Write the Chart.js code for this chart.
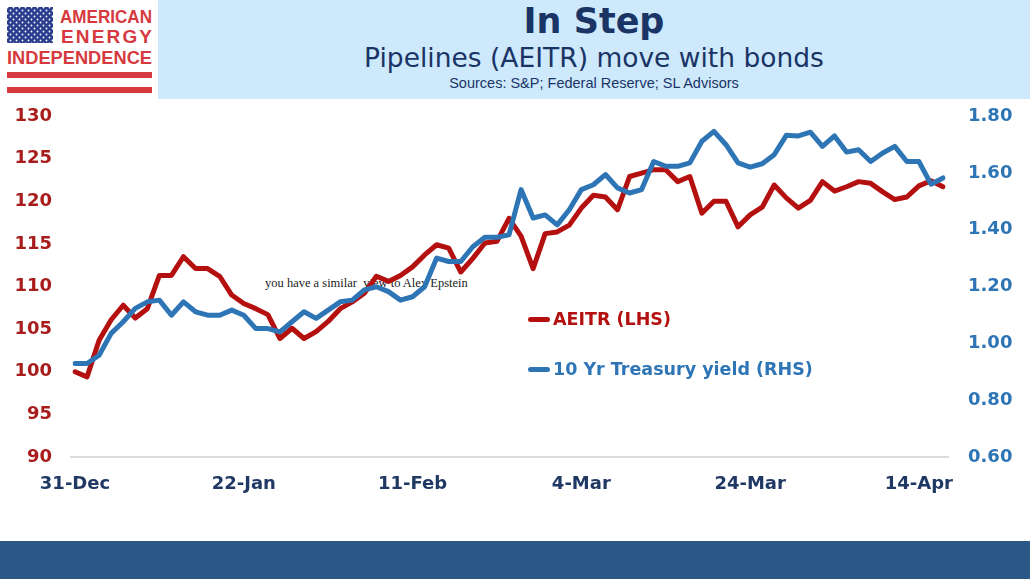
<!DOCTYPE html>
<html>
<head>
<meta charset="utf-8">
<title>In Step</title>
<script src="https://cdn.jsdelivr.net/npm/chart.js@4.4.1/dist/chart.umd.min.js"></script>
<style>
  html, body { margin: 0; padding: 0; background: #fff; }
  #page { position: relative; width: 1030px; height: 579px; overflow: hidden; font-family: "DejaVu Sans", Verdana, sans-serif; }
  #logo { position: absolute; left: 0; top: 0; }
  #banner { position: absolute; left: 158px; top: 0; width: 872px; height: 99px; background: #cde9fb; color: #1a3466; text-align: center; }
  #title { position: absolute; left: 0; right: 0; top: 4px; font-size: 35px; line-height: 35px; font-weight: bold; }
  #subtitle { position: absolute; left: 0; right: 0; top: 45px; font-size: 26.5px; line-height: 26.5px; }
  #sources { position: absolute; left: 0; right: 0; top: 76px; font-family: "Liberation Sans", Arial, sans-serif; font-size: 14.5px; line-height: 14.5px; }
  #note { position: absolute; left: 265px; top: 276px; font-family: "Liberation Serif", "Times New Roman", serif; font-size: 12.5px; color: #222; white-space: pre; }
  #chartBox { position: absolute; left: 0; top: 102px; width: 1030px; height: 439px; }
  #legend { position: absolute; left: 528px; top: 305px; }
  .item { display: flex; align-items: center; height: 28px; margin-bottom: 22px; font-weight: bold; font-size: 17.5px; }
  .swatch { display: inline-block; width: 22px; height: 5px; border-radius: 3px; margin-right: 3px; }
  #footer { position: absolute; left: 0; top: 541px; width: 1030px; height: 38px; background: #2b5887; }
</style>
</head>
<body>
<div id="page">
  <svg id="logo" width="158" height="99" viewBox="0 0 158 99">
    <defs>
      <pattern id="stars" patternUnits="userSpaceOnUse" width="6" height="6">
        <circle cx="1.5" cy="1.5" r="0.9" fill="#ffffff"/>
        <circle cx="4.5" cy="4.5" r="0.9" fill="#ffffff"/>
      </pattern>
    </defs>
    <rect x="7" y="7" width="46" height="36" fill="#2b3d8f"/>
    <rect x="7" y="7" width="46" height="36" fill="url(#stars)"/>
    <g fill="#d63a3f" font-family="'Liberation Sans', Arial, sans-serif" font-weight="bold">
      <text x="60" y="23" font-size="19" textLength="92" lengthAdjust="spacingAndGlyphs">AMERICAN</text>
      <text x="61" y="43" font-size="19" textLength="91" lengthAdjust="spacing">ENERGY</text>
      <text x="7" y="64" font-size="19" textLength="145" lengthAdjust="spacingAndGlyphs">INDEPENDENCE</text>
    </g>
    <rect x="7" y="72" width="145" height="6" fill="#d63a3f"/>
    <rect x="7" y="87" width="145" height="6" fill="#d63a3f"/>
  </svg>

  <div id="banner">
    <div id="title">In Step</div>
    <div id="subtitle">Pipelines (AEITR) move with bonds</div>
    <div id="sources">Sources: S&amp;P; Federal Reserve; SL Advisors</div>
  </div>

  <div id="note">you have a similar  view to Alex Epstein</div>

  <div id="chartBox"><canvas id="inStep"></canvas></div>
  <div id="legend"></div>
  <div id="footer"></div>
</div>

<script>
// trading days, 31-Dec-2020 to 16-Apr-2021
const dates = [
  "31-Dec",
  "4-Jan", "5-Jan", "6-Jan", "7-Jan", "8-Jan", "11-Jan", "12-Jan", "13-Jan", "14-Jan", "15-Jan",
  "19-Jan", "20-Jan", "21-Jan", "22-Jan", "25-Jan", "26-Jan", "27-Jan", "28-Jan", "29-Jan",
  "1-Feb", "2-Feb", "3-Feb", "4-Feb", "5-Feb", "8-Feb", "9-Feb", "10-Feb", "11-Feb", "12-Feb",
  "16-Feb", "17-Feb", "18-Feb", "19-Feb", "22-Feb", "23-Feb", "24-Feb", "25-Feb", "26-Feb",
  "1-Mar", "2-Mar", "3-Mar", "4-Mar", "5-Mar", "8-Mar", "9-Mar", "10-Mar", "11-Mar", "12-Mar",
  "15-Mar", "16-Mar", "17-Mar", "18-Mar", "19-Mar", "22-Mar", "23-Mar", "24-Mar", "25-Mar",
  "26-Mar", "29-Mar", "30-Mar", "31-Mar", "1-Apr", "5-Apr", "6-Apr", "7-Apr", "8-Apr", "9-Apr",
  "12-Apr", "13-Apr", "14-Apr", "15-Apr", "16-Apr"
];

const tickLabels = ["31-Dec", "22-Jan", "11-Feb", "4-Mar", "24-Mar", "14-Apr"];

// AEITR total return index, 31-Dec = 100
const aeitr = [
  100.0, 99.4, 103.7, 106.1, 107.8, 106.3, 107.4, 111.3, 111.3, 113.5,
  112.1, 112.1, 111.2, 109.0, 108.0, 107.4, 106.7, 103.9, 105.1, 103.9,
  104.7, 105.9, 107.4, 108.2, 109.2, 111.2, 110.6, 111.3, 112.3, 113.7,
  114.9, 114.5, 111.7, 113.3, 115.1, 115.3, 118.0, 115.9, 112.1, 116.2,
  116.4, 117.2, 119.2, 120.7, 120.5, 119.0, 122.9, 123.3, 123.7, 123.7,
  122.3, 122.9, 118.6, 120.0, 120.0, 117.0, 118.4, 119.3, 121.9, 120.4,
  119.2, 120.1, 122.3, 121.2, 121.7, 122.3, 122.1, 121.1, 120.2, 120.5,
  121.8, 122.4, 121.7
];

// 10 year treasury yield, %
const treasury = [
  0.929, 0.929, 0.958, 1.035, 1.076, 1.123, 1.146, 1.152, 1.099, 1.146,
  1.111, 1.099, 1.099, 1.117, 1.099, 1.052, 1.052, 1.040, 1.076, 1.111,
  1.088, 1.117, 1.146, 1.152, 1.188, 1.199, 1.182, 1.152, 1.164, 1.199,
  1.300, 1.288, 1.288, 1.340, 1.373, 1.373, 1.382, 1.541, 1.441, 1.452,
  1.417, 1.470, 1.541, 1.558, 1.594, 1.547, 1.529, 1.541, 1.640, 1.623,
  1.623, 1.635, 1.711, 1.746, 1.699, 1.635, 1.620, 1.632, 1.664, 1.732,
  1.730, 1.743, 1.693, 1.730, 1.673, 1.681, 1.640, 1.670, 1.693, 1.640,
  1.640, 1.560, 1.582
];

const red = "#b51010";
const blue = "#2e75b6";
const navy = "#1f3864";

Chart.defaults.font.family = '"DejaVu Sans", Verdana, sans-serif';

// y axes: fixed width, and no extra top/bottom padding from the tick labels
function fixY(width) {
  return (scale) => {
    scale.width = width;
    scale.paddingTop = 0;
    scale.paddingBottom = 0;
  };
}

// thin grey category axis line, a bit wider than the plot like excel does
const axisLine = {
  id: "axisLine",
  beforeDatasetsDraw(chart) {
    const { ctx, chartArea } = chart;
    ctx.save();
    ctx.strokeStyle = "#dcdcdc";
    ctx.lineWidth = 2;
    ctx.beginPath();
    ctx.moveTo(chartArea.left - 5, chartArea.bottom);
    ctx.lineTo(chartArea.right + 6, chartArea.bottom);
    ctx.stroke();
    ctx.restore();
  },
};

const ctx = document.getElementById("inStep");

const chart = new Chart(ctx, {
  type: "line",
  data: {
    labels: dates,
    datasets: [
      {
        label: "AEITR (LHS)",
        data: aeitr,
        yAxisID: "y",
        borderColor: red,
        backgroundColor: red,
        order: 2,
      },
      {
        label: "10 Yr Treasury yield (RHS)",
        data: treasury,
        yAxisID: "y1",
        borderColor: blue,
        backgroundColor: blue,
        order: 1,
      },
    ],
  },
  plugins: [axisLine],
  options: {
    responsive: true,
    maintainAspectRatio: false,
    animation: false,
    layout: { padding: { top: 14, left: 0, right: 0, bottom: 0 } },
    elements: {
      point: { radius: 0 },
      line: { borderWidth: 5, tension: 0, borderJoinStyle: "round", borderCapStyle: "round" },
    },
    plugins: {
      legend: { display: false },
      tooltip: { enabled: false },
    },
    scales: {
      x: {
        offset: false,
        grid: { display: false, drawTicks: false },
        border: { display: false },
        ticks: {
          autoSkip: false,
          maxRotation: 0,
          padding: 17,
          color: navy,
          font: { size: 18, weight: "bold" },
          callback: function (value) {
            const label = this.getLabelForValue(value);
            return tickLabels.includes(label) ? label : "";
          },
        },
        afterFit: (scale) => { scale.height = 84; },
      },
      y: {
        position: "left",
        min: 90,
        max: 130,
        grid: { display: false, drawTicks: false },
        border: { display: false },
        ticks: {
          stepSize: 5,
          padding: 23,
          color: "#a81c1c",
          font: { size: 18, weight: "bold" },
        },
        afterFit: fixY(75),
      },
      y1: {
        position: "right",
        min: 0.6,
        max: 1.8,
        grid: { display: false, drawTicks: false },
        border: { display: false },
        ticks: {
          stepSize: 0.2,
          padding: 25,
          color: blue,
          font: { size: 18, weight: "bold" },
          callback: (value) => value.toFixed(2),
        },
        afterFit: fixY(87),
      },
    },
  },
});

// legend as html, inside the plot like the original
const legendBox = document.getElementById("legend");
chart.data.datasets.forEach((ds) => {
  const row = document.createElement("div");
  row.className = "item";
  row.style.color = ds.borderColor;
  const sw = document.createElement("span");
  sw.className = "swatch";
  sw.style.background = ds.borderColor;
  row.appendChild(sw);
  row.appendChild(document.createTextNode(ds.label));
  legendBox.appendChild(row);
});
</script>
</body>
</html>
